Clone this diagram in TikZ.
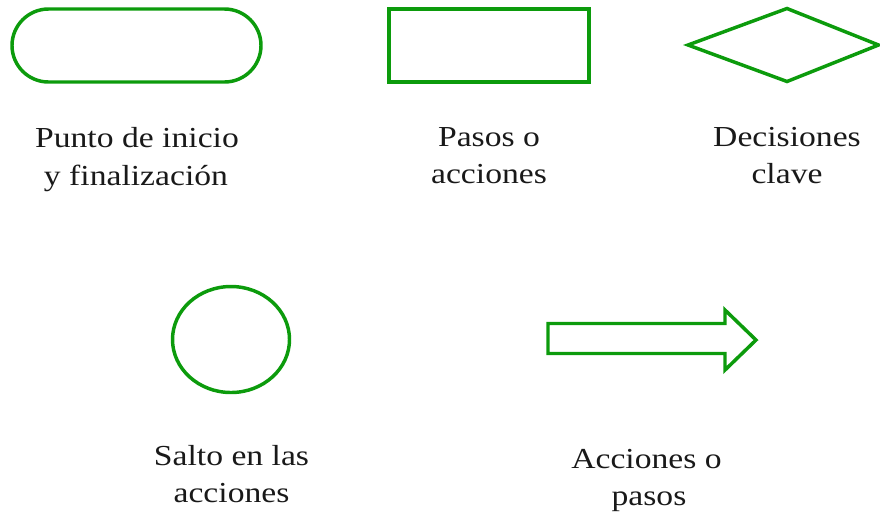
\documentclass[tikz,border=0pt]{standalone}
\usepackage{fontspec}
\setmainfont{Liberation Serif}
\definecolor{sgreen}{RGB}{12,155,12}
\begin{document}
\begin{tikzpicture}[x=0.75pt,y=-0.75pt,
  shp/.style={draw=sgreen,line width=2.6pt,line join=miter},
  lbl/.style={anchor=base,inner sep=0pt,xscale=1.16,font=\fontsize{21.75pt}{28.5pt}\selectfont,text=black!90}]
\useasboundingbox (0,0) rectangle (880,512);
% shapes
\draw[shp,rounded corners=36.5*0.75pt] (12,9) rectangle (261,82);
\node[shp,rectangle,inner sep=0pt,minimum width=200*0.75pt,minimum height=73*0.75pt] (rect) at (489,45.5) {};
\draw[shp] (688,45) -- (787,8.5) -- (878.5,45) -- (787,81.5) -- cycle;
\draw[shp] (231,339.5) ellipse [x radius=58.5, y radius=53];
\draw[shp] (548,323.5) -- (725,323.5) -- (725,310) -- (756,340) -- (725,370) -- (725,353.5) -- (548,353.5) -- cycle;
% labels
\node[lbl] (t1a) at (137,147) {Punto de inicio};
\node[lbl] (t1b) at (136,185) {y finalización};
\node[lbl] (t2a) at (489,146) {Pasos o};
\node[lbl] (t2b) at (489,183) {acciones};
\node[lbl] (t3a) at (787,146) {Decisiones};
\node[lbl] (t3b) at (787,183) {clave};
\node[lbl] (t4a) at (231.5,465) {Salto en las};
\node[lbl] (t4b) at (231.5,502) {acciones};
\node[lbl] (t5a) at (646.5,468) {Acciones o};
\node[lbl] (t5b) at (649,505) {pasos};
\end{tikzpicture}
\end{document}
